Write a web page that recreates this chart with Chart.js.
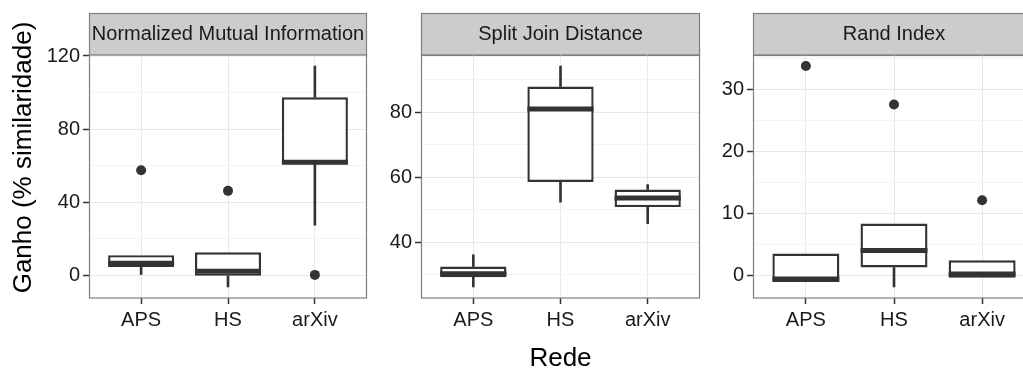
<!DOCTYPE html>
<html>
<head>
<meta charset="utf-8">
<script src="https://cdn.jsdelivr.net/npm/chart.js@4/dist/chart.umd.min.js"></script>
<style>
  html, body { margin: 0; padding: 0; background: #fff; overflow: hidden; width: 1023px; height: 369px; }
  canvas { position: absolute; top: 0; }
</style>
</head>
<body>
<canvas id="c1" width="372" height="369" style="left:0px"></canvas>
<canvas id="c2" width="343" height="369" style="left:360px"></canvas>
<canvas id="c3" width="340" height="369" style="left:700px"></canvas>
<script>
// Categorias (redes)
const cats = ["APS", "HS", "arXiv"];

// Normalized Mutual Information
const nmiLow = [0.4, -6.4, 27.4];
const nmiQ1 = [4.5, -0.3, 60.8];
const nmiMed = [6.6, 2.2, 61.8];
const nmiQ3 = [11.0, 12.6, 97.4];
const nmiHigh = [11.0, 12.6, 114.5];
const nmiOut = [57.5, 46.2, 0.2];
const nmiMajor = [0, 40, 80, 120];
const nmiMinor = [20, 60, 100];

// Split Join Distance
const sjdLow = [26.2, 52.3, 45.7];
const sjdQ1 = [29.2, 58.5, 50.8];
const sjdMed = [30.3, 81.0, 53.6];
const sjdQ3 = [32.5, 87.9, 56.2];
const sjdHigh = [36.1, 94.2, 57.7];
const sjdOut = [null, null, null];
const sjdMajor = [40, 60, 80];
const sjdMinor = [30, 50, 70, 90];

// Rand Index
const riLow = [-1.1, -1.9, -0.4];
const riQ1 = [-1.1, 1.24, -0.4];
const riMed = [-0.6, 4.0, 0.2];
const riQ3 = [3.5, 8.35, 2.4];
const riHigh = [3.5, 8.35, 2.4];
const riOut = [33.8, 27.6, 12.1];
const riMajor = [0, 10, 20, 30];
const riMinor = [5, 15, 25, 35];

const FONT = "'Liberation Sans', Arial, Helvetica, sans-serif";
const Y_TITLE = "Ganho (% similaridade)";
const X_TITLE = "Rede";

// Faixa cinza do facet, mediana e borda do painel
const panelPlugin = {
  id: "panel",
  beforeDraw(chart) {
    const { ctx, chartArea: a } = chart;
    const tb = chart.titleBlock;
    ctx.save();
    ctx.fillStyle = "#CCCCCC";
    ctx.fillRect(a.left, tb.top, a.right - a.left, a.top - tb.top);
    ctx.strokeStyle = "#7F7F7F";
    ctx.lineWidth = 1.2;
    ctx.strokeRect(a.left + 0.5, tb.top + 0.5, a.right - a.left - 1, a.top - tb.top);
    ctx.restore();
  },
  afterDatasetsDraw(chart) {
    const { ctx } = chart;
    const y = chart.scales.y;
    chart.data.datasets.forEach((ds, di) => {
      if (!ds.medians) return;
      const meta = chart.getDatasetMeta(di);
      meta.data.forEach((el, i) => {
        const py = y.getPixelForValue(ds.medians[i]);
        ctx.save();
        ctx.strokeStyle = "#333333";
        ctx.lineWidth = 5;
        ctx.beginPath();
        ctx.moveTo(el.x - el.width / 2, py);
        ctx.lineTo(el.x + el.width / 2, py);
        ctx.stroke();
        ctx.restore();
      });
    });
  },
  afterDraw(chart) {
    const { ctx, chartArea: a } = chart;
    ctx.save();
    ctx.strokeStyle = "#7F7F7F";
    ctx.lineWidth = 1.2;
    ctx.strokeRect(a.left + 0.5, a.top, a.right - a.left - 1, a.bottom - a.top);
    ctx.restore();
  },
};

// Titulo do eixo y (so no primeiro painel)
const yTitlePlugin = {
  id: "yTitle",
  afterDraw(chart) {
    const { ctx } = chart;
    const cy = (chart.titleBlock.top + chart.chartArea.bottom) / 2;
    ctx.save();
    ctx.translate(24, cy + 2);
    ctx.rotate(-Math.PI / 2);
    ctx.font = "26px " + FONT;
    ctx.fillStyle = "#000";
    ctx.textAlign = "center";
    ctx.textBaseline = "middle";
    ctx.fillText(Y_TITLE, 0, 0);
    ctx.restore();
  },
};

// Bigode: so desenha quando tem comprimento
function whisker(from, to) {
  return {
    type: "bar",
    data: cats.map((c, i) => ({ x: i, y: from[i] === to[i] ? null : [from[i], to[i]] })),
    backgroundColor: "#333333",
    borderWidth: 0,
    barThickness: 2,
    grouped: false,
  };
}

function makePanel(id, title, lo, q1, med, q3, hi, out, majors, minors, yWidth, padRight, extra) {
  const all = lo.concat(hi, out.filter((v) => v !== null));
  const dmin = Math.min(...all);
  const dmax = Math.max(...all);
  const pad = (dmax - dmin) * 0.05;
  const ticks = majors.concat(minors).sort((a, b) => a - b);

  const xScale = {
    type: "linear",
    min: -0.6,
    max: 2.6,
    offset: false,
    afterBuildTicks: (s) => { s.ticks = cats.map((c, i) => ({ value: i })); },
    afterFit: (s) => { s.height = 71; },
    ticks: {
      callback: (v) => cats[v],
      font: { size: 20, family: FONT },
      color: "#1a1a1a",
      padding: 4,
      maxRotation: 0,
      autoSkip: false,
    },
    grid: { offset: false, color: "#E8E8E8", lineWidth: 1, tickColor: "#333333", tickLength: 6, tickWidth: 1.5 },
    border: { display: false },
  };
  if (extra.xTitle) {
    xScale.title = {
      display: true,
      text: X_TITLE,
      font: { size: 26, family: FONT, lineHeight: 0.8 },
      color: "#000",
      padding: { top: 0, bottom: 0 },
    };
  }

  return new Chart(document.getElementById(id), {
    type: "bar",
    data: {
      datasets: [
        {
          type: "bar",
          data: cats.map((c, i) => ({ x: i, y: [q1[i], q3[i]] })),
          backgroundColor: "#ffffff",
          borderColor: "#333333",
          borderWidth: 2.4,
          borderSkipped: false,
          barPercentage: 0.76,
          categoryPercentage: 1,
          grouped: false,
          medians: med,
        },
        whisker(lo, q1),
        whisker(q3, hi),
        {
          type: "scatter",
          data: cats.map((c, i) => ({ x: i, y: out[i] })).filter((p) => p.y !== null),
          pointRadius: 5,
          pointBackgroundColor: "#333333",
          pointBorderWidth: 0,
        },
      ],
    },
    options: {
      responsive: false,
      animation: false,
      layout: { padding: { top: 13, right: padRight, left: 0, bottom: 0 } },
      plugins: {
        legend: { display: false },
        tooltip: { enabled: false },
        title: {
          display: true,
          text: title,
          fullSize: false,
          font: { size: 20, family: FONT, weight: "normal" },
          color: "#1a1a1a",
          padding: { top: 9, bottom: 9 },
        },
      },
      scales: {
        x: xScale,
        y: {
          type: "linear",
          min: dmin - pad,
          max: dmax + pad,
          afterBuildTicks: (s) => { s.ticks = ticks.map((v) => ({ value: v })); },
          afterFit: (s) => { s.width = yWidth; },
          ticks: {
            callback: (v) => (majors.includes(v) ? String(v) : ""),
            font: { size: 20, family: FONT },
            color: "#1a1a1a",
            padding: 3,
            autoSkip: false,
          },
          grid: {
            color: (ctx) => (majors.includes(ctx.tick.value) ? "#E8E8E8" : "#F4F4F4"),
            tickColor: (ctx) => (majors.includes(ctx.tick.value) ? "#333333" : "rgba(0,0,0,0)"),
            lineWidth: 1,
            tickLength: 6,
            tickWidth: 1.5,
          },
          border: { display: false },
        },
      },
    },
    plugins: extra.yTitle ? [panelPlugin, yTitlePlugin] : [panelPlugin],
  });
}

makePanel("c1", "Normalized Mutual Information", nmiLow, nmiQ1, nmiMed, nmiQ3, nmiHigh, nmiOut, nmiMajor, nmiMinor, 89, 3, { yTitle: true });
makePanel("c2", "Split Join Distance", sjdLow, sjdQ1, sjdMed, sjdQ3, sjdHigh, sjdOut, sjdMajor, sjdMinor, 61, 3, { xTitle: true });
makePanel("c3", "Rand Index", riLow, riQ1, riMed, riQ3, riHigh, riOut, riMajor, riMinor, 53, 5, {});
</script>
</body>
</html>
